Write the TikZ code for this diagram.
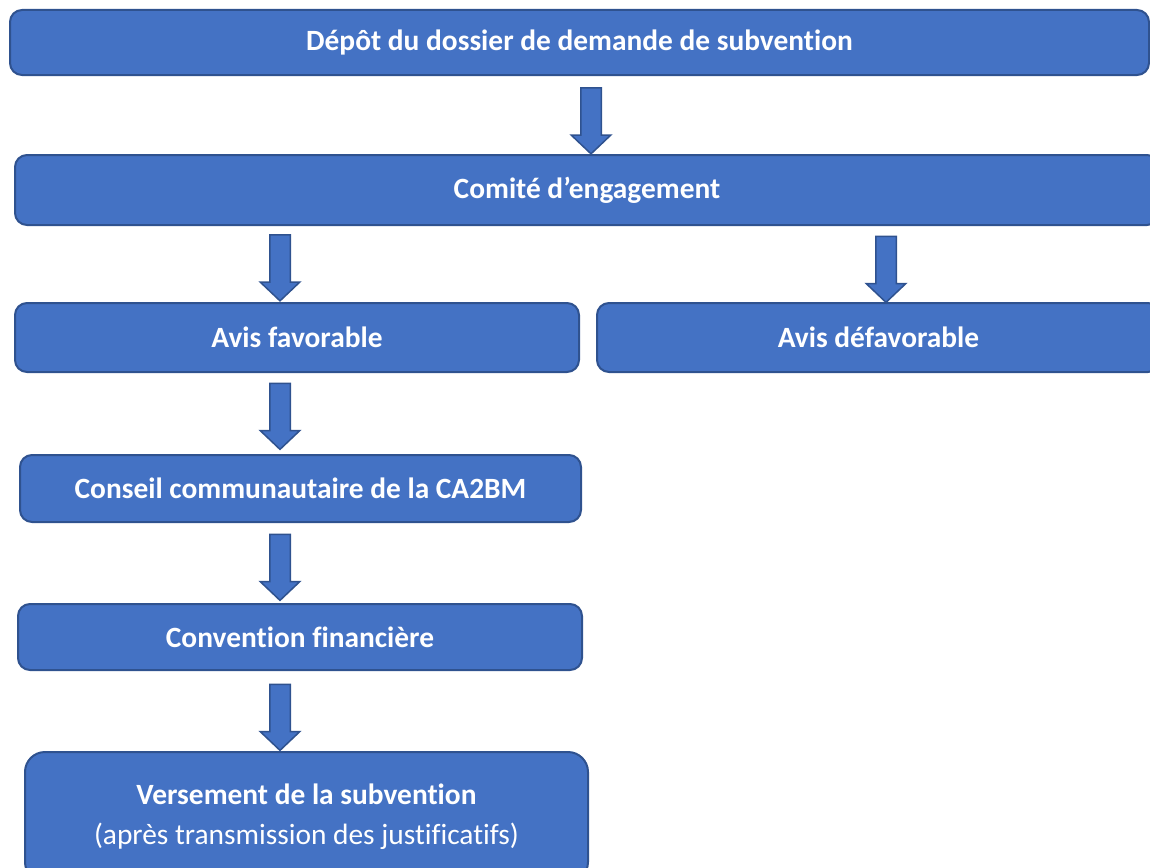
\documentclass[tikz,border=0pt]{standalone}
\usepackage{fontspec}
\setmainfont{Carlito}[Ligatures=NoCommon]
\usetikzlibrary{shapes.arrows}
\definecolor{boxblue}{HTML}{4472C4}
\definecolor{boxedge}{HTML}{2F528F}
\tikzset{
  etape/.style={draw=boxedge,fill=boxblue,line width=2pt,rounded corners=12pt,
    text=white,font=\bfseries\fontsize{29.4}{35}\selectfont,align=center,inner sep=0pt},
  fleche/.style={single arrow,draw=boxedge,fill=boxblue,line width=1.5pt,
    minimum width=0pt,minimum height=66pt,inner sep=0pt,inner ysep=9.5pt,
    single arrow head extend=9.5pt,single arrow tip angle=93,rotate=-90}
}
\begin{document}
\begin{tikzpicture}[x=1pt,y=-1pt]
\useasboundingbox (0,0) rectangle (1150,867);
% etapes
\node[etape,minimum width=1139pt,minimum height=65pt] (depot) at (579.5,42.5) {Dépôt du dossier de demande de subvention};
\node[etape,minimum width=1144pt,minimum height=70pt] (comite) at (587,190) {Comité d’engagement};
\node[etape,minimum width=564pt,minimum height=69pt] (favorable) at (297,337.5) {Avis favorable};
\node[etape,minimum width=563pt,minimum height=69pt] (defavorable) at (878.5,337.5) {Avis défavorable};
\node[etape,minimum width=561pt,minimum height=67pt] (conseil) at (300.5,488.5) {Conseil communautaire de la CA2BM};
\node[etape,minimum width=564pt,minimum height=66pt] (convention) at (300,637) {Convention financière};
\node[etape,rounded corners=20pt,minimum width=563pt,minimum height=130pt] (versement) at (306.5,817)
  {Versement de la subvention\\[5pt]{\mdseries (après transmission des justificatifs)}};
% fleches
\foreach \fx/\fy/\fn in {591/116/f1,280/263/f2,886/264.5/f3,280/411.5/f4,280/562.5/f5,280/712.5/f6}{\node[fleche] (\fn) at (\fx,\fy) {};}
\end{tikzpicture}
\end{document}
